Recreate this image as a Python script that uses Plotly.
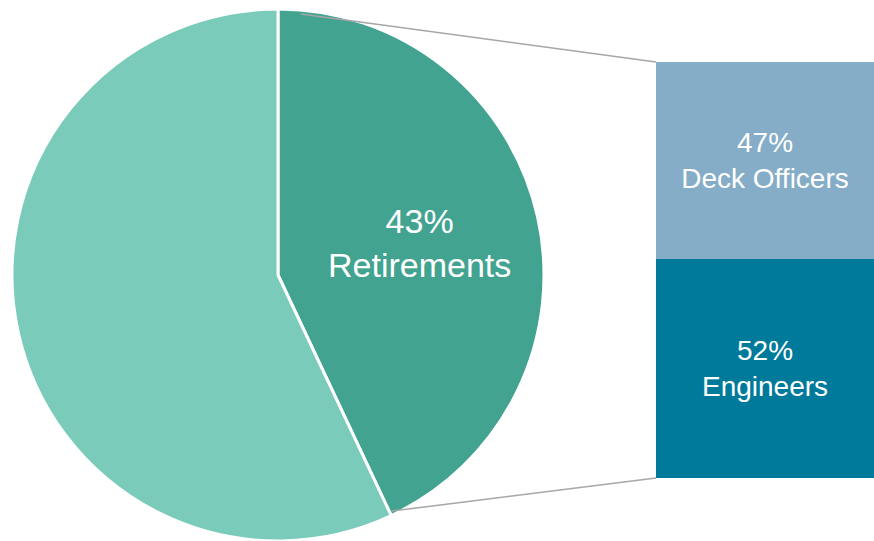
import math
import plotly.graph_objects as go

# ---- data ----
pie_labels = ["Retirements", "Other"]
pie_values = [43, 57]
pie_show_label = [True, False]

bar_labels = ["Engineers", "Deck Officers"]
bar_values = [52, 47]

# ---- styles ----
pie_colors = ["#41A390", "#7BCBBB"]
bar_colors = ["#007A9B", "#85ADC7"]
line_color = "#A6A6A6"
W, H = 874, 541

# pie geometry (pixels)
pie_cx, pie_cy, pie_r = 278, 275, 266
pie_dom_x = [(pie_cx - pie_r) / W, (pie_cx + pie_r) / W]
pie_dom_y = [max(0, (H - pie_cy - pie_r) / H), (H - pie_cy + pie_r) / H]

# bar geometry (pixels)
bar_left, bar_right, bar_top, bar_bottom = 656, 874, 62, 478
bar_dom_x = [bar_left / W, bar_right / W]
bar_dom_y = [(H - bar_bottom) / H, (H - bar_top) / H]

bar_text = [f"{v}%<br>{l}" for l, v in zip(bar_labels, bar_values)]

fig = go.Figure()
fig.add_trace(go.Pie(
    labels=pie_labels, values=pie_values, sort=False, direction="clockwise",
    rotation=0, textinfo="none",
    marker=dict(colors=pie_colors, line=dict(color="white", width=3)),
    domain=dict(x=pie_dom_x, y=pie_dom_y), showlegend=False, hoverinfo="label+percent",
))

for lab, val, col, txt in zip(bar_labels, bar_values, bar_colors, bar_text):
    fig.add_trace(go.Bar(
        x=[0], y=[val], name=lab, width=1, marker=dict(color=col, line=dict(width=0)),
        text=[txt], textposition="inside", insidetextanchor="middle",
        textfont=dict(color="white", size=28, family="Liberation Sans, Arial"),
        texttemplate="%{text}", showlegend=False, xaxis="x", yaxis="y",
    ))

total = sum(pie_values)

def pie_point(deg, rfrac):
    a = math.radians(deg)
    px = pie_cx + rfrac * pie_r * math.sin(a)
    py = pie_cy - rfrac * pie_r * math.cos(a)
    return px / W, (H - py) / H

# slice labels placed on each slice's bisector
annotations = []
cum = 0
for lab, val, show in zip(pie_labels, pie_values, pie_show_label):
    mid = (cum + val / 2) / total * 360
    cum += val
    if show:
        ax_, ay_ = pie_point(mid, 0.547)
        annotations.append(dict(
            x=ax_, y=ay_, xref="paper", yref="paper", showarrow=False,
            text=f"{val}%<br>{lab}", xanchor="center", yanchor="middle",
            font=dict(color="white", size=34, family="Liberation Sans, Arial"),
        ))

# connector lines: from the split slice edges to bar corners
frac = pie_values[0] / total
sx, sy = pie_point(5.0, 0.985)
ex, ey = pie_point(frac * 360 - 0.5, 0.985)
shapes = [
    dict(type="line", xref="paper", yref="paper", x0=sx, y0=sy,
         x1=bar_dom_x[0], y1=bar_dom_y[1], line=dict(color=line_color, width=1.5)),
    dict(type="line", xref="paper", yref="paper", x0=ex, y0=ey,
         x1=bar_dom_x[0], y1=bar_dom_y[0], line=dict(color=line_color, width=1.5)),
]

fig.update_layout(
    width=W, height=H, margin=dict(l=0, r=0, t=0, b=0),
    paper_bgcolor="white", plot_bgcolor="white",
    barmode="stack", bargap=0,
    xaxis=dict(domain=bar_dom_x, range=[-0.5, 0.5], visible=False, fixedrange=True),
    yaxis=dict(domain=bar_dom_y, range=[0, sum(bar_values)], visible=False, fixedrange=True),
    shapes=shapes, annotations=annotations,
    font=dict(family="Liberation Sans, Arial"),
)

fig.write_html(
    "out.html",
    config={"displayModeBar": False},
    post_script="document.body.style.margin='0';document.body.style.overflow='hidden';",
)
